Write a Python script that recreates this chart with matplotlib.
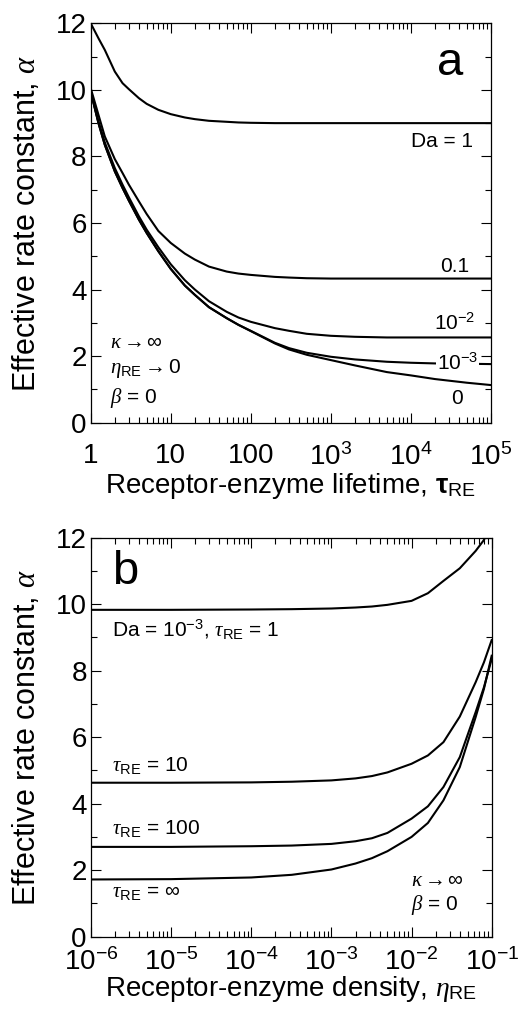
import matplotlib
matplotlib.use("Agg")
import matplotlib.pyplot as plt
from matplotlib.ticker import FixedLocator, FixedFormatter, LogLocator, NullFormatter, MultipleLocator

plt.rcParams['font.family'] = ['Liberation Sans', 'DejaVu Sans']
plt.rcParams['mathtext.fontset'] = 'custom'
plt.rcParams['mathtext.rm'] = 'Liberation Sans'
plt.rcParams['mathtext.it'] = 'Liberation Serif:italic'
plt.rcParams['mathtext.bf'] = 'Liberation Sans:bold'

# ---------------- Panel a data ----------------
tau = [1, 1.25, 1.5, 2, 2.5, 3, 4, 5, 7, 10, 15, 20, 30, 50, 70, 100, 200, 300, 500,
       1e3, 2e3, 5e3, 1e4, 2e4, 5e4, 1e5]
alpha_da1 = [12.0, 11.55, 11.2, 10.55, 10.2, 10.02, 9.75, 9.58, 9.40, 9.27, 9.17, 9.12, 9.07, 9.04,
             9.02, 9.01, 9.0, 9.0, 9.0, 9.0, 9.0, 9.0, 9.0, 9.0, 9.0, 9.0]
alpha_da01 = [10.05, 9.25, 8.6, 7.92, 7.5, 7.15, 6.65, 6.27, 5.76, 5.4, 5.08, 4.9, 4.69, 4.54,
              4.48, 4.44, 4.38, 4.36, 4.34, 4.33, 4.33, 4.33, 4.33, 4.33, 4.33, 4.33]
alpha_da1em2 = [9.97, 9.05, 8.42, 7.65, 7.15, 6.77, 6.2, 5.8, 5.27, 4.76, 4.28, 4.0, 3.65, 3.33,
                3.16, 3.03, 2.84, 2.76, 2.67, 2.61, 2.58, 2.56, 2.56, 2.56, 2.56, 2.56]
alpha_da1em3 = [9.95, 9.0, 8.35, 7.55, 7.05, 6.67, 6.1, 5.7, 5.15, 4.62, 4.12, 3.84, 3.47, 3.14,
                2.94, 2.76, 2.4, 2.24, 2.1, 1.98, 1.9, 1.83, 1.8, 1.78, 1.77, 1.76]
alpha_da0 = [9.95, 9.0, 8.35, 7.55, 7.05, 6.67, 6.1, 5.7, 5.15, 4.62, 4.12, 3.84, 3.47, 3.14,
             2.94, 2.75, 2.38, 2.2, 2.04, 1.88, 1.72, 1.52, 1.42, 1.31, 1.2, 1.13]

xticks_a = [1, 10, 100, 1e3, 1e4, 1e5]
xticklabels_a = ['1', '10', '100', r'$\mathregular{10^{3}}$', r'$\mathregular{10^{4}}$', r'$\mathregular{10^{5}}$']

# ---------------- Panel b data ----------------
eta = [1e-6, 1e-5, 1e-4, 3.2e-4, 1e-3, 2e-3, 3.2e-3, 5e-3, 1e-2, 1.6e-2, 2.5e-2, 4e-2, 6.3e-2, 8e-2, 1e-1]
alpha_tau1 = [9.83, 9.83, 9.84, 9.85, 9.87, 9.9, 9.93, 9.98, 10.1, 10.33, 10.7, 11.08, 11.6, 11.93, 12.5]
alpha_tau10 = [4.63, 4.63, 4.64, 4.66, 4.7, 4.76, 4.83, 4.94, 5.2, 5.45, 5.85, 6.62, 7.65, 8.25, 8.92]
alpha_tau100 = [2.7, 2.7, 2.72, 2.74, 2.79, 2.87, 2.96, 3.12, 3.55, 3.92, 4.5, 5.4, 6.75, 7.5, 8.35]
alpha_tauinf = [1.72, 1.73, 1.78, 1.86, 2.02, 2.2, 2.36, 2.57, 3.0, 3.42, 4.1, 5.1, 6.6, 7.45, 8.45]

xticks_b = [1e-6, 1e-5, 1e-4, 1e-3, 1e-2, 1e-1]
xticklabels_b = [r'$\mathregular{10^{-6}}$', r'$\mathregular{10^{-5}}$', r'$\mathregular{10^{-4}}$',
                 r'$\mathregular{10^{-3}}$', r'$\mathregular{10^{-2}}$', r'$\mathregular{10^{-1}}$']

yticks = [0, 2, 4, 6, 8, 10, 12]

fig = plt.figure(figsize=(5.18, 10.17), dpi=100)
ax_a = fig.add_axes([0.1751, 0.5844, 0.7727, 0.3927])
ax_b = fig.add_axes([0.1757, 0.0790, 0.7735, 0.3923])

lw = 1.5
TICK_FS = 20
XLAB_FS = 20
YLAB_FS = 22
TXT_FS = 15


def style(ax, xticks, xlabels, xlim, xpad):
    ax.set_xscale('log')
    ax.set_xlim(*xlim)
    ax.set_ylim(0, 12)
    ax.xaxis.set_major_locator(FixedLocator(xticks))
    ax.xaxis.set_major_formatter(FixedFormatter(xlabels))
    ax.xaxis.set_minor_locator(LogLocator(base=10, subs=range(2, 10), numticks=20))
    ax.xaxis.set_minor_formatter(NullFormatter())
    ax.yaxis.set_major_locator(FixedLocator(yticks))
    ax.yaxis.set_minor_locator(MultipleLocator(1))
    ax.tick_params(which='both', direction='in', top=True, right=True, labelsize=TICK_FS, width=0.8)
    ax.tick_params(which='major', length=7)
    ax.tick_params(axis='x', which='major', pad=xpad)
    ax.tick_params(axis='y', which='major', pad=3)
    ax.tick_params(which='minor', length=4)
    for s in ax.spines.values():
        s.set_linewidth(0.9)
    ax.set_ylabel(r'Effective rate constant, $\alpha$', fontsize=YLAB_FS, labelpad=10)


# Panel a
for yv in [alpha_da1, alpha_da01, alpha_da1em2, alpha_da1em3, alpha_da0]:
    ax_a.plot(tau, yv, color='black', lw=lw, clip_on=True)
style(ax_a, xticks_a, xticklabels_a, (1, 1e5), 15)
ax_a.set_xlabel(r'Receptor-enzyme lifetime, $\mathbf{\tau}_{\mathrm{RE}}$', fontsize=XLAB_FS, labelpad=0)

ta = ax_a.get_yaxis_transform()
ax_a.text(0.864, 10.45, 'a', transform=ta, fontsize=34, ha='left', va='baseline')
ax_a.text(0.955, 8.45, 'Da = 1', transform=ta, fontsize=TXT_FS, ha='right', va='center')
ax_a.text(0.947, 4.69, '0.1', transform=ta, fontsize=TXT_FS, ha='right', va='center')
ax_a.text(0.962, 3.0, r'$\mathregular{10^{-2}}$', transform=ta, fontsize=TXT_FS, ha='right', va='center')
ax_a.text(0.917, 1.80, r'$\mathregular{10^{-3}}$', transform=ta, fontsize=TXT_FS, ha='center', va='center',
          bbox=dict(facecolor='white', edgecolor='none', pad=0.5))
ax_a.text(0.914, 0.74, '0', transform=ta, fontsize=TXT_FS, ha='center', va='center')
ax_a.text(0.048, 2.4, r'$\kappa\rightarrow\infty$', transform=ta, fontsize=TXT_FS, ha='left', va='center')
ax_a.text(0.048, 1.62, r'$\eta_{\mathrm{RE}}\rightarrow\mathregular{0}$', transform=ta, fontsize=TXT_FS, ha='left', va='center')
ax_a.text(0.048, 0.74, r'$\beta$ = 0', transform=ta, fontsize=TXT_FS, ha='left', va='center')

# Panel b
for yv in [alpha_tau1, alpha_tau10, alpha_tau100, alpha_tauinf]:
    ax_b.plot(eta, yv, color='black', lw=lw, clip_on=True)
style(ax_b, xticks_b, xticklabels_b, (1e-6, 1e-1), 8)
ax_b.set_xlabel(r'Receptor-enzyme density, $\eta_{\mathrm{RE}}$', fontsize=XLAB_FS, labelpad=-1)

tb = ax_b.get_yaxis_transform()
ax_b.text(0.052, 10.6, 'b', transform=tb, fontsize=34, ha='left', va='baseline')
ax_b.text(0.052, 9.25, r'Da = $\mathregular{10^{-3}}$, $\tau_{\mathrm{RE}}$ = 1', transform=tb, fontsize=TXT_FS, ha='left', va='center')
ax_b.text(0.052, 5.15, r'$\tau_{\mathrm{RE}}$ = 10', transform=tb, fontsize=TXT_FS, ha='left', va='center')
ax_b.text(0.052, 3.25, r'$\tau_{\mathrm{RE}}$ = 100', transform=tb, fontsize=TXT_FS, ha='left', va='center')
ax_b.text(0.052, 1.33, r'$\tau_{\mathrm{RE}}$ = $\infty$', transform=tb, fontsize=TXT_FS, ha='left', va='center')
ax_b.text(0.798, 1.7, r'$\kappa\rightarrow\infty$', transform=tb, fontsize=TXT_FS, ha='left', va='center')
ax_b.text(0.798, 0.95, r'$\beta$ = 0', transform=tb, fontsize=TXT_FS, ha='left', va='center')

fig.savefig('out.png', dpi=100)
